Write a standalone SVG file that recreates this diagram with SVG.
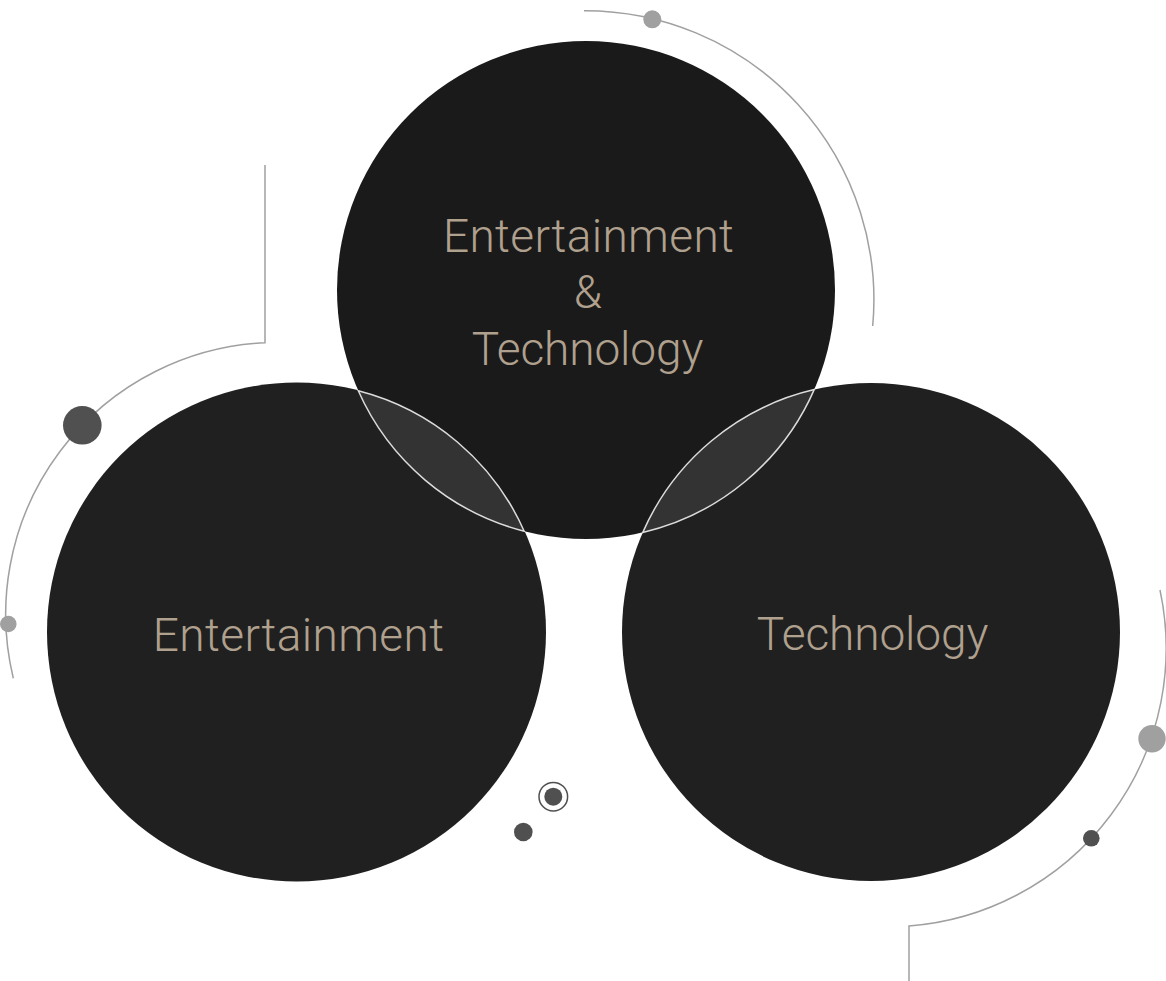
<svg xmlns="http://www.w3.org/2000/svg" width="1166" height="981" viewBox="0 0 1166 981">
  <style>
    .deco { fill: none; stroke: #a0a0a0; stroke-width: 1.5; }
    .lens { fill: #333333; stroke: #dcdcdc; stroke-width: 1.5; }
    .label { font-family: Roboto, Lato, "Liberation Sans", sans-serif; font-weight: 300; font-size: 46px; fill: #b0a08e; text-anchor: middle; }
    .dotLight { fill: #a0a0a0; }
    .dotDark { fill: #505050; }
  </style>
  <rect width="1166" height="981" fill="#ffffff"/>
  <g id="decorations">
    <path class="deco" d="M584,10.7 A289 289 0 0 1 872.7,326"/>
    <path class="deco" d="M265,165 V342.7 A272 272 0 0 0 13.3,678.3"/>
    <path class="deco" d="M1160,590 A278.5 278.5 0 0 1 909,926 V981"/>
    <circle class="dotLight" cx="652.3" cy="19.3" r="9"/>
    <circle class="dotDark" cx="82.3" cy="425.3" r="19.3"/>
    <circle class="dotLight" cx="8.3" cy="624" r="8.3"/>
    <circle class="dotLight" cx="1152" cy="738.7" r="13.7"/>
    <circle class="dotDark" cx="1091.3" cy="838.3" r="8.3"/>
    <circle cx="553.3" cy="796.7" r="14.3" fill="none" stroke="#505050" stroke-width="1.5"/>
    <circle class="dotDark" cx="553.3" cy="796.7" r="9"/>
    <circle class="dotDark" cx="523.3" cy="832" r="9.3"/>
  </g>
  <g id="node-top">
    <circle cx="586" cy="290" r="249" fill="#1a1a1a"/>
    <text class="label" x="588.4" y="251.7" textLength="291" lengthAdjust="spacing">Entertainment</text>
    <text class="label" x="588" y="308.3">&amp;</text>
    <text class="label" x="587.5" y="365" textLength="231.6" lengthAdjust="spacing">Technology</text>
  </g>
  <g id="node-left">
    <circle cx="296.5" cy="632" r="249.5" fill="#202020"/>
    <text class="label" x="298.4" y="651" textLength="291.3" lengthAdjust="spacing">Entertainment</text>
  </g>
  <g id="node-right">
    <circle cx="871" cy="632" r="249" fill="#202020"/>
    <text class="label" x="872.5" y="650" textLength="231.6" lengthAdjust="spacing">Technology</text>
  </g>
  <g id="connectors">
    <path id="lens-left" class="lens" d="M358.3,390.8 A249.5 249.5 0 0 1 524.2,531.2 A249 249 0 0 1 358.3,390.8 Z"/>
    <path id="lens-right" class="lens" d="M814.2,389.6 A249 249 0 0 0 642.8,532.4 A249 249 0 0 0 814.2,389.6 Z"/>
  </g>
</svg>
